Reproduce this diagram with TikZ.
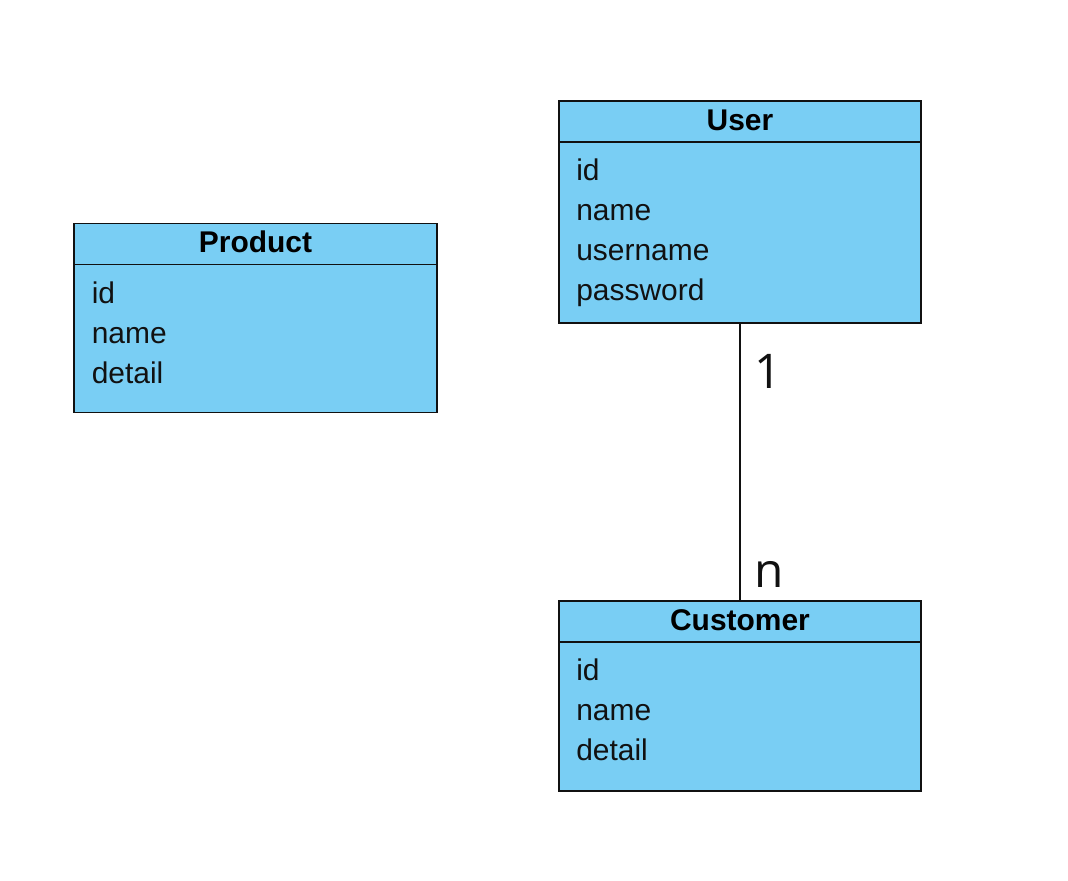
\documentclass[tikz,border=0pt]{standalone}
\usepackage{fontspec}
\setmainfont{Liberation Sans}
\newfontfamily\multfont{Open Sans}
\usepackage{tikz}
\usetikzlibrary{positioning}
\definecolor{classfill}{HTML}{79CEF4}
\definecolor{ink}{HTML}{111111}

\begin{document}
\begin{tikzpicture}[
  font=\fontsize{21.3}{28}\selectfont,
  head/.style={draw=ink,line width=1.3pt,fill=classfill,minimum width=9.06cm,minimum height=1.025cm,inner sep=0pt,outer sep=0pt,text height=0.55cm,text depth=0.125cm,font=\fontsize{21.3}{28}\selectfont\bfseries},
  body/.style={draw=ink,line width=1.3pt,fill=classfill,minimum width=9.06cm,inner sep=0pt,outer sep=0pt,anchor=north},
  attr/.style={anchor=base west,inner sep=0pt,text=ink},
  link/.style={draw=ink,line width=1.3pt},
  mult/.style={font=\multfont\fontsize{34}{40}\selectfont,text=ink,anchor=base west,inner sep=0pt,xshift=0.33cm}]
  \path[fill=white,use as bounding box] (0,0) rectangle (26.7,-22.025);
  % Product
  \node[head] (prodhead) at (6.3875,-6.1) {Product};
  \node[body,minimum height=3.7cm] (prodbody) at (prodhead.south) {};
  \node[attr] (prodid) at ([xshift=0.43cm,yshift=-0.97cm]prodbody.north west) {id};
  \node[attr] (prodname) at ([yshift=-1cm]prodid.base west) {name};
  \node[attr] (proddetail) at ([yshift=-1cm]prodname.base west) {detail};
  % User
  \node[head] (userhead) at (18.5,-3.0375) {User};
  \node[body,minimum height=4.525cm] (userbody) at (userhead.south) {};
  \node[attr] (userid) at ([xshift=0.43cm,yshift=-0.97cm]userbody.north west) {id};
  \node[attr] (username) at ([yshift=-1cm]userid.base west) {name};
  \node[attr] (userlogin) at ([yshift=-1cm]username.base west) {username};
  \node[attr] (userpass) at ([yshift=-1cm]userlogin.base west) {password};
  % Customer
  \node[head] (custhead) at (18.5,-15.5375) {Customer};
  \node[body,minimum height=3.725cm] (custbody) at (custhead.south) {};
  \node[attr] (custid) at ([xshift=0.43cm,yshift=-0.97cm]custbody.north west) {id};
  \node[attr] (custname) at ([yshift=-1cm]custid.base west) {name};
  \node[attr] (custdetail) at ([yshift=-1cm]custname.base west) {detail};
  % one user, many customers
  \draw[link] (userbody.south) -- node[mult,pos=0.234] (multone) {1} node[mult,pos=0.95] (multmany) {n} (custhead.north);
\end{tikzpicture}
\end{document}
